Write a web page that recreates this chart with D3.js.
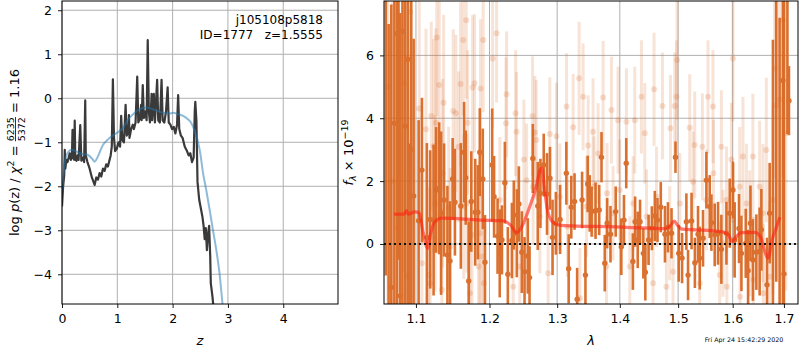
<!DOCTYPE html>
<html>
<head>
<meta charset="utf-8">
<script src="https://cdn.jsdelivr.net/npm/d3@7"></script>
<style>
  body { margin: 0; background: #fff; }
  text { font-family: "DejaVu Sans", sans-serif; }
</style>
</head>
<body>
<script>
// ---- p(z) panel ----
const pzZ = [0.00,0.02,0.04,0.05,0.06,0.08,0.10,0.12,0.14,0.16,0.18,0.19,0.20,0.22,0.23,0.24,0.26,0.28,0.30,0.33,0.35,0.38,0.40,0.42,0.43,0.46,0.50,0.54,0.57,0.59,0.62,0.65,0.68,0.71,0.74,0.77,0.80,0.83,0.86,0.88,0.90,0.92,0.94,0.96,0.99,1.02,1.05,1.07,1.09,1.12,1.15,1.17,1.20,1.21,1.22,1.25,1.28,1.30,1.33,1.36,1.38,1.41,1.43,1.44,1.46,1.48,1.51,1.53,1.55,1.57,1.59,1.61,1.62,1.63,1.66,1.68,1.72,1.74,1.77,1.80,1.82,1.85,1.88,1.91,1.93,1.96,1.99,2.02,2.05,2.08,2.10,2.12,2.15,2.18,2.22,2.26,2.29,2.32,2.35,2.38,2.40,2.41,2.43,2.45,2.48,2.51,2.54,2.56,2.58,2.60,2.62,2.64,2.66,2.68,2.69,2.72,2.75];
const pzLog = [-2.46,-2.0,-1.75,-1.17,-1.6,-1.4,-1.45,-1.35,-1.25,-1.4,-1.3,-0.72,-1.35,-1.4,-0.51,-1.38,-1.42,-1.3,-1.4,-0.61,-1.42,-1.35,-1.45,-0.05,-1.3,-1.45,-1.6,-1.8,-1.9,-1.97,-1.8,-1.85,-1.7,-1.78,-1.6,-1.65,-1.5,-1.55,-1.4,-1.3,-1.1,0.43,-0.9,-1.2,-1.15,-1.0,-1.1,-0.40,-0.95,-1.0,-0.15,-0.85,-0.75,-0.38,-0.9,-0.7,-0.6,-0.7,-0.55,0.49,-0.55,-0.45,-0.15,-0.5,0.3,-0.45,-0.3,-0.5,1.32,-0.3,-0.55,-0.2,0.1,-0.5,0.1,-0.55,0.42,-0.5,-0.55,0.42,-0.5,-0.55,-0.3,0.25,-0.55,-0.6,-0.7,-0.65,-0.8,-0.6,0.07,-0.7,-0.85,-0.9,-1.1,-1.2,-1.3,-1.25,-1.45,-1.35,-0.3,-0.08,-0.5,-1.9,-2.3,-2.5,-2.7,-2.9,-3.2,-2.95,-3.45,-3.1,-2.9,-3.6,-4.2,-4.5,-4.9];

const fitZ = [0,0.02,0.05,0.10,0.17,0.25,0.32,0.40,0.47,0.55,0.59,0.65,0.74,0.82,0.89,1.00,1.10,1.19,1.27,1.34,1.42,1.53,1.60,1.68,1.77,1.86,1.94,2.01,2.10,2.19,2.27,2.34,2.40,2.45,2.50,2.55,2.61,2.67,2.73,2.79,2.85,2.90,2.95];
const fitLog = [-2.1,-1.8,-1.44,-1.25,-1.17,-1.2,-1.25,-1.27,-1.29,-1.38,-1.44,-1.32,-1.06,-0.95,-0.87,-0.78,-0.68,-0.49,-0.38,-0.30,-0.24,-0.21,-0.23,-0.27,-0.31,-0.34,-0.35,-0.33,-0.36,-0.40,-0.47,-0.57,-0.75,-0.95,-1.25,-1.7,-2.1,-2.54,-3.0,-3.45,-4.0,-4.65,-5.3];

const zTicks = [0, 1, 2, 3, 4];
const pTicks = [-4, -3, -2, -1, 0, 1, 2];

// ---- spectrum panel ----
const darkLam = [1.0615,1.0650,1.0684,1.0723,1.0756,1.0775,1.0797,1.0826,1.0862,1.0896,1.0915,1.0939,1.0970,
  1.1035,1.1078,1.1143,1.1187,1.1232,1.1266,1.1306,1.1332,1.1372,1.1417,1.1452,1.1488,1.1519,1.1600,1.1645,1.1667,1.1708,1.1744,1.1799,1.1836,1.1863,1.1905,1.1936,
  1.2038,1.2065,1.2115,1.2146,1.2178,1.2220,1.2263,1.2322,1.2350,1.2394,1.2424,1.2468,1.2508,1.2556,1.2582,1.2631,1.2705,1.2745,1.2795,1.2845,1.2890,1.2929,1.2980,
  1.3045,1.3142,1.3178,1.3219,1.3270,1.3311,1.3389,1.3442,1.3478,1.3510,1.3541,1.3604,1.3663,1.3700,1.3753,1.3792,1.3846,1.3932,
  1.4025,1.4069,1.4107,1.4218,1.4256,1.4300,1.4339,1.4395,1.4429,1.4485,1.4541,1.4592,1.4638,1.4695,1.4768,1.4820,1.4883,1.4953,
  1.5010,1.5070,1.5147,1.5177,1.5240,1.5300,1.5357,1.5388,1.5448,1.5510,1.5571,1.5602,1.5663,1.5725,1.5787,1.5882,1.5944,
  1.6005,1.6037,1.6120,1.6166,1.6249,1.6294,1.6340,1.6387,1.6454,1.6518,1.6552,1.6663,1.6715,1.6780,1.6846,1.6913,1.6979,1.7000,1.7070,1.7101];
const darkFlux = [9.0,-3.0,-1.38,3.84,6.70,9.5,-1.65,6.77,3.75,5.88,-2.8,3.01,1.53,
  0.74,2.35,0.21,0.78,0.76,1.72,1.77,0.98,1.40,-0.35,-0.54,2.07,1.33,1.21,2.92,2.11,-1.18,1.35,1.01,1.01,2.92,2.07,-0.58,
  2.51,1.50,0.25,-0.30,0.13,1.95,-0.96,0.11,0.92,0.34,1.27,-0.26,-0.88,-0.38,-1.07,2.72,1.21,1.61,2.51,1.59,2.09,0.21,0.66,
  0.78,2.25,-0.79,1.17,1.35,-1.76,1.40,-0.99,1.91,1.29,1.03,1.06,1.08,2.76,-0.61,0.66,0.31,1.03,
  -0.09,0.76,2.57,-0.56,0.71,0.13,0.71,-0.30,-0.90,0.13,0.50,0.89,0.76,1.17,0.31,0.53,0.34,2.76,
  -0.30,-0.45,0.71,-0.99,0.73,-0.60,0.31,-0.45,0.18,2.03,1.19,0.68,0.29,0.34,-0.17,0.34,0.98,
  1.72,0.13,0.49,-0.30,0.02,-0.85,0.66,-0.51,-0.26,-0.24,0.45,-1.30,0.98,-2.5,8.8,-2.8,5.2,-0.95,8.5,4.56];
const darkErr = [10,10,9,10,9,10,9,9,8,8,6,6,5,
  3.2,2.3,3.0,2.2,2.4,2.0,2.1,2.6,1.8,2.2,1.9,1.3,1.7,2.0,1.6,1.5,1.9,1.6,1.7,1.5,1.4,1.6,1.5,
  1.8,1.3,1.2,1.4,1.1,1.3,1.5,1.2,1.1,1.4,1.2,1.3,1.1,1.2,1.0,1.1,1.4,1.1,1.0,1.3,1.0,1.2,1.0,
  1.1,1.0,1.1,1.0,0.9,1.0,0.9,1.0,0.9,0.9,0.8,0.9,0.8,0.8,0.9,0.8,0.9,0.8,
  0.9,0.8,0.8,0.9,0.8,0.9,0.7,0.8,0.9,0.8,0.7,0.8,0.7,0.8,0.9,0.8,0.8,0.5,
  0.9,0.8,0.9,0.8,0.9,0.8,0.9,1.0,0.9,0.9,1.0,0.9,1.0,1.0,1.1,1.0,1.1,
  0.9,1.2,1.1,1.2,1.1,1.3,1.2,1.3,1.2,1.4,1.3,1.5,1.6,9,10,10,10,10,5,1.1];

const lightLam = [1.0640,1.0700,1.0770,1.0841,1.0880,1.0926,
  1.1043,1.1078,1.1131,1.1166,1.1187,1.1201,1.1232,1.1254,1.1263,1.1274,1.1307,1.1343,1.1353,1.1366,1.1434,1.1455,1.1496,1.1532,1.1570,1.1597,1.1633,1.1640,1.1674,1.1683,1.1693,1.1725,1.1753,1.1762,1.1790,1.1846,1.1864,1.1874,1.1892,1.1911,1.1920,
  1.2044,1.2101,1.2148,1.2236,1.2245,1.2341,1.2376,1.2389,1.2438,1.2498,1.2538,1.2627,1.2635,1.2661,1.2683,1.2737,1.2862,1.2887,1.2990,
  1.3041,1.3145,1.3160,1.3248,1.3342,1.3354,1.3405,1.3460,1.3485,1.3564,1.3580,1.3645,1.3726,1.3781,1.3790,1.3862,1.3889,1.3971,1.3999,
  1.4110,1.4167,1.4222,1.4250,1.4363,1.4419,1.4449,1.4562,1.4579,1.4621,1.4724,1.4794,1.4851,1.4864,1.4910,1.4940,1.4970,1.4981,
  1.5029,1.5207,1.5267,1.5297,1.5388,1.5436,1.5510,1.5539,1.5631,1.5640,1.5756,1.5787,1.5818,1.5882,1.5890,1.5975,
  1.6005,1.6010,1.6133,1.6140,1.6195,1.6262,1.6325,1.6387,1.6395,1.6518,1.6583,1.6590,1.6649,1.6715,1.6781,1.6813,1.6846,1.6913,1.6979,1.7040];
const lightFlux = [5.0,2.0,0.5,5.11,-1.0,7.39,
  4.31,-0.61,3.65,-0.99,-1.25,4.07,3.12,1.29,3.86,6.57,5.06,-1.46,2.25,4.49,1.13,-0.09,4.23,4.16,3.09,5.09,6.49,1.19,7.12,1.29,3.86,-1.57,0.29,4.98,5.11,-0.72,0.34,4.95,-0.40,6.49,-1.25,
  5.90,6.70,1.40,3.84,4.76,-1.36,4.16,3.57,-0.72,2.69,2.03,4.07,1.82,3.55,3.31,0.87,-0.93,3.50,3.43,
  1.50,4.37,0.55,3.71,5.27,-1.73,4.68,1.19,3.13,3.57,1.82,2.88,4.66,-0.72,1.61,4.26,0.98,3.94,1.72,
  3.89,-0.72,1.29,3.94,4.68,3.52,0.87,-1.25,4.92,1.50,4.39,-1.36,0.34,3.68,-0.88,4.39,4.68,5.85,
  1.29,3.70,1.98,3.15,-1.25,3.09,1.40,4.68,4.37,2.25,-0.99,3.09,0.02,1.40,-1.36,2.69,
  5.90,0.76,1.82,-1.68,2.78,1.29,0.34,2.78,-1.14,1.82,0.98,-1.57,2.99,-1.04,1.40,5.58,4.42,4.60,7.12,3.52];
const lightErr = [8,8,9,6,7,5,
  3.5,3.0,3.2,2.8,3.0,3.0,3.4,2.8,3.0,2.5,3.0,2.6,3.0,2.8,2.6,2.5,2.6,2.5,2.4,2.6,2.4,2.3,2.5,2.2,2.3,2.2,2.4,2.3,2.2,2.2,2.3,2.2,2.1,2.3,2.0,
  2.2,2.2,2.0,2.1,2.0,2.0,2.0,1.9,1.9,1.9,1.8,1.9,1.8,1.8,1.9,1.8,1.7,1.8,1.7,
  1.7,1.7,1.6,1.7,1.8,1.6,1.7,1.6,1.6,1.7,1.6,1.6,1.8,1.6,1.6,1.7,1.5,1.7,1.6,
  1.7,1.6,1.5,1.7,1.8,1.6,1.5,1.6,1.8,1.6,1.7,1.6,1.5,1.7,1.6,1.7,1.8,1.9,
  1.6,1.7,1.6,1.7,1.6,1.7,1.6,1.8,1.8,1.7,1.7,1.8,1.7,1.7,1.7,1.8,
  2.0,1.8,1.9,1.8,1.9,1.9,2.0,2.0,2.0,2.1,2.2,2.2,2.3,2.4,3.0,3.5,4,4,5,5];

const modelLam = [1.0717,1.0847,1.0876,1.0900,1.0987,1.1043,1.1087,1.1153,1.1193,1.1251,1.1340,1.1864,1.2184,1.2302,1.2395,1.2466,1.2585,1.2682,1.2739,1.2768,1.2803,1.2851,1.2925,1.3024,1.3302,1.3826,1.4375,1.4781,1.4869,1.4929,1.4989,1.5066,1.5321,1.5796,1.5918,1.5993,1.6057,1.6170,1.6424,1.6540,1.6632,1.6683,1.6764,1.6851,1.6917];
const modelFlux = [0.95,0.95,1.06,0.95,1.02,0.98,0.45,-0.14,0.34,0.71,0.82,0.76,0.74,0.60,0.36,0.55,1.19,1.82,2.35,2.41,1.82,1.08,0.71,0.60,0.57,0.55,0.51,0.49,0.60,0.73,0.60,0.47,0.45,0.39,0.29,0.07,0.21,0.36,0.37,0.21,-0.30,-0.45,0.13,0.55,0.85];

const lamTicks = [1.1, 1.2, 1.3, 1.4, 1.5, 1.6, 1.7];
const fluxTicks = [0, 2, 4, 6];

// ---- drawing ----
const svg = d3.select('body').append('svg')
  .attr('width', 800).attr('height', 350);

const tickFont = '12.5px';
const gridColor = '#b0b0b0';
const orange = '#d9661f';

function styleAxis(g) {
  g.select('.domain').remove();
  g.selectAll('.tick line').attr('stroke', '#000').attr('stroke-width', 0.9);
  g.selectAll('.tick text').style('font-size', tickFont).attr('fill', '#000');
}

// left panel
const L = {x0: 62, x1: 338, y0: 1, y1: 304};
const xz = d3.scaleLinear().domain([0, 4.99]).range([L.x0, L.x1]);
const yz = d3.scaleLinear().domain([-4.675, 2.21]).range([L.y1, L.y0]);

svg.append('clipPath').attr('id', 'clipL')
  .append('rect').attr('x', L.x0).attr('y', L.y0).attr('width', L.x1 - L.x0).attr('height', L.y1 - L.y0);

const gl = svg.append('g');
gl.selectAll('.vg').data(zTicks).join('line')
  .attr('x1', d => xz(d)).attr('x2', d => xz(d)).attr('y1', L.y0).attr('y2', L.y1)
  .attr('stroke', gridColor).attr('stroke-width', 1);
gl.selectAll('.hg').data(pTicks).join('line')
  .attr('x1', L.x0).attr('x2', L.x1).attr('y1', d => yz(d)).attr('y2', d => yz(d))
  .attr('stroke', gridColor).attr('stroke-width', 1);

const linePz = d3.line().x(d => xz(d[0])).y(d => yz(d[1]));
const plotL = svg.append('g').attr('clip-path', 'url(#clipL)');
plotL.append('path').datum(pzZ.map((z, i) => [z, pzLog[i]]))
  .attr('d', linePz).attr('fill', 'none')
  .attr('stroke', '#3a3a3a').attr('stroke-width', 2.2).attr('stroke-linejoin', 'round');
plotL.append('path').datum(fitZ.map((z, i) => [z, fitLog[i]]))
  .attr('d', linePz.curve(d3.curveMonotoneX)).attr('fill', 'none')
  .attr('stroke', '#1f77b4').attr('stroke-opacity', 0.5).attr('stroke-width', 2);

svg.append('g').attr('transform', `translate(0,${L.y1})`)
  .call(d3.axisBottom(xz).tickValues(zTicks).tickSize(4).tickPadding(6).tickFormat(d3.format('d')))
  .call(styleAxis);
svg.append('g').attr('transform', `translate(${L.x0},0)`)
  .call(d3.axisLeft(yz).tickValues(pTicks).tickSize(4).tickPadding(6).tickFormat(d3.format('d')))
  .call(styleAxis);
svg.append('rect').attr('x', L.x0).attr('y', L.y0).attr('width', L.x1 - L.x0).attr('height', L.y1 - L.y0)
  .attr('fill', 'none').attr('stroke', '#000').attr('stroke-width', 1);

svg.append('text').attr('x', 323).attr('y', 24).attr('text-anchor', 'end')
  .style('font-size', '12px').text('j105108p5818');
svg.append('text').attr('x', 323).attr('y', 39).attr('text-anchor', 'end')
  .style('font-size', '12px').style('white-space', 'pre').text('ID=1777   z=1.5555');

svg.append('text').attr('x', (L.x0 + L.x1) / 2).attr('y', 345).attr('text-anchor', 'middle')
  .style('font-size', '13px').style('font-style', 'italic').text('z');

// left y label with fraction
const ylab = svg.append('g');
const fs = 13, small = 9.5;
let cx = 0;
function piece(s, opts = {}) {
  const t = ylab.append('text').attr('x', cx).attr('y', opts.dy || 0)
    .style('font-size', (opts.size || fs) + 'px')
    .style('font-style', opts.italic ? 'italic' : 'normal')
    .style('white-space', 'pre').text(s);
  const w = t.node().getComputedTextLength();
  if (!opts.stay) cx += w;
  return w;
}
piece('log ');
piece('p', {italic: true});
piece('(z) / ');
piece('χ', {italic: true});
piece('2', {size: small, dy: -5});
piece(' = ');
const fx = cx;
const wn = piece('6235', {size: small, dy: -5, stay: true});
piece('5372', {size: small, dy: 5.5});
ylab.append('line').attr('x1', fx).attr('x2', fx + wn).attr('y1', -3.5).attr('y2', -3.5)
  .attr('stroke', '#000').attr('stroke-width', 0.8);
piece(' = 1.16');
ylab.attr('transform', `translate(19,${(L.y0 + L.y1) / 2}) rotate(-90) translate(${-cx / 2},0)`);

// right panel
const R = {x0: 384, x1: 798, y0: 1, y1: 304};
const xl = d3.scaleLog().domain([1.0592, 1.7285]).range([R.x0, R.x1]);
const yf = d3.scaleLinear().domain([-1.91, 7.73]).range([R.y1, R.y0]);

svg.append('clipPath').attr('id', 'clipR')
  .append('rect').attr('x', R.x0).attr('y', R.y0).attr('width', R.x1 - R.x0).attr('height', R.y1 - R.y0);

const gr = svg.append('g');
gr.selectAll('line.v').data(lamTicks).join('line')
  .attr('x1', d => xl(d)).attr('x2', d => xl(d)).attr('y1', R.y0).attr('y2', R.y1)
  .attr('stroke', gridColor).attr('stroke-width', 1);
gr.selectAll('line.h').data(fluxTicks).join('line')
  .attr('x1', R.x0).attr('x2', R.x1).attr('y1', d => yf(d)).attr('y2', d => yf(d))
  .attr('stroke', gridColor).attr('stroke-width', 1);

const plotR = svg.append('g').attr('clip-path', 'url(#clipR)');

function errBars(g, lam, flux, err, opacity, w, r) {
  const pts = lam.map((l, i) => ({l, f: flux[i], e: err[i]}));
  const grp = g.append('g').attr('opacity', opacity);
  grp.selectAll('line').data(pts).join('line')
    .attr('x1', d => xl(d.l)).attr('x2', d => xl(d.l))
    .attr('y1', d => yf(d.f - d.e)).attr('y2', d => yf(d.f + d.e))
    .attr('stroke', orange).attr('stroke-width', w);
  grp.selectAll('circle').data(pts).join('circle')
    .attr('cx', d => xl(d.l)).attr('cy', d => yf(d.f)).attr('r', r)
    .attr('fill', orange);
}
// faded points: each mark drawn with its own alpha
(function () {
  const pts = lightLam.map((l, i) => ({l, f: lightFlux[i], e: lightErr[i]}));
  const grp = plotR.append('g');
  grp.selectAll('line').data(pts).join('line')
    .attr('x1', d => xl(d.l)).attr('x2', d => xl(d.l))
    .attr('y1', d => yf(d.f - d.e)).attr('y2', d => yf(d.f + d.e))
    .attr('stroke', orange).attr('stroke-opacity', 0.18).attr('stroke-width', 3);
  grp.selectAll('circle').data(pts).join('circle')
    .attr('cx', d => xl(d.l)).attr('cy', d => yf(d.f)).attr('r', 3)
    .attr('fill', orange).attr('fill-opacity', 0.2);
})();
errBars(plotR, darkLam, darkFlux, darkErr, 0.92, 2.6, 2.7);

plotR.append('path').datum(modelLam.map((l, i) => [l, modelFlux[i]]))
  .attr('d', d3.line().x(d => xl(d[0])).y(d => yf(d[1])).curve(d3.curveMonotoneX))
  .attr('fill', 'none').attr('stroke', '#ff2010').attr('stroke-opacity', 0.6)
  .attr('stroke-width', 3.2).attr('stroke-linejoin', 'round');

plotR.append('line').attr('x1', R.x0).attr('x2', R.x1).attr('y1', yf(0)).attr('y2', yf(0))
  .attr('stroke', '#111').attr('stroke-width', 2).attr('stroke-dasharray', '2,3');

svg.append('g').attr('transform', `translate(0,${R.y1})`)
  .call(d3.axisBottom(xl).tickValues(lamTicks).tickSize(4).tickPadding(6).tickFormat(d3.format('.1f')))
  .call(styleAxis);
svg.append('g').attr('transform', `translate(${R.x0},0)`)
  .call(d3.axisLeft(yf).tickValues(fluxTicks).tickSize(4).tickPadding(6).tickFormat(d3.format('d')))
  .call(styleAxis);
svg.append('rect').attr('x', R.x0).attr('y', R.y0).attr('width', R.x1 - R.x0).attr('height', R.y1 - R.y0)
  .attr('fill', 'none').attr('stroke', '#000').attr('stroke-width', 1);

svg.append('text').attr('x', (R.x0 + R.x1) / 2).attr('y', 345).attr('text-anchor', 'middle')
  .style('font-size', '13px').style('font-style', 'italic').text('λ');

// right y label
const fl = svg.append('text').attr('text-anchor', 'middle')
  .attr('transform', `translate(353,${(R.y0 + R.y1) / 2}) rotate(-90)`)
  .style('font-size', '13px');
fl.append('tspan').style('font-style', 'italic').text('f');
fl.append('tspan').attr('dy', 3).style('font-size', '9.5px').style('font-style', 'italic').text('λ');
fl.append('tspan').attr('dy', -3).style('white-space', 'pre').text(' × 10');
fl.append('tspan').attr('dy', -5).style('font-size', '9.5px').text('−19');

svg.append('text').attr('x', 744).attr('y', 342).attr('text-anchor', 'middle')
  .style('font-size', '6.3px').text('Fri Apr 24 15:42:29 2020');
</script>
</body>
</html>
